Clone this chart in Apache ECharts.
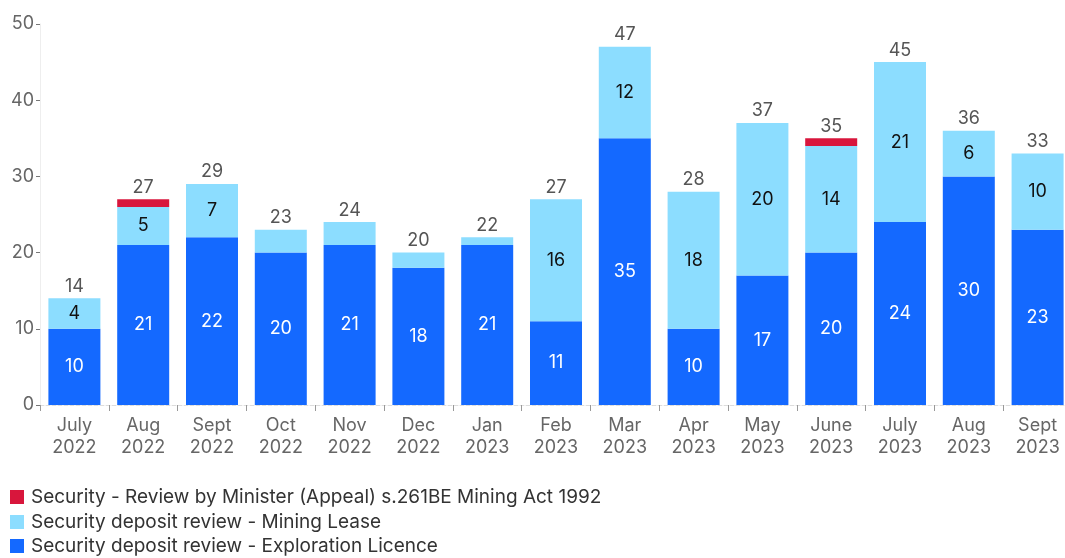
<!DOCTYPE html>
<html>
<head>
<meta charset="utf-8">
<script src="https://cdn.jsdelivr.net/npm/echarts@6/dist/echarts.min.js"></script>
<style>
  html, body { margin: 0; padding: 0; background: #fff; }
  #chart { width: 1065px; height: 558px; }
</style>
</head>
<body>
<div id="chart"></div>
<script>
// 月份（两行标签）
const months = ['July\n2022', 'Aug\n2022', 'Sept\n2022', 'Oct\n2022', 'Nov\n2022', 'Dec\n2022',
    'Jan\n2023', 'Feb\n2023', 'Mar\n2023', 'Apr\n2023', 'May\n2023', 'June\n2023',
    'July\n2023', 'Aug\n2023', 'Sept\n2023'];

const explorationLicence = [10, 21, 22, 20, 21, 18, 21, 11, 35, 10, 17, 20, 24, 30, 23];
const miningLease = [4, 5, 7, 3, 3, 2, 1, 16, 12, 18, 20, 14, 21, 6, 10];
const ministerAppeal = [0, 1, 0, 0, 0, 0, 0, 0, 0, 0, 0, 1, 0, 0, 0];

const yTicks = [0, 10, 20, 30, 40, 50];

const names = [
    'Security deposit review - Exploration Licence',
    'Security deposit review - Mining Lease',
    'Security - Review by Minister (Appeal) s.261BE Mining Act 1992'
];

const totals = months.map((m, i) => explorationLicence[i] + miningLease[i] + ministerAppeal[i]);

const FONT = 'Inter';

const chart = echarts.init(document.getElementById('chart'));

// 只显示较大的数值
function insideLabel(color) {
    return {
        show: true,
        position: 'inside',
        color: color,
        fontSize: 18,
        fontFamily: FONT,
        formatter: p => (p.value >= 4 ? String(p.value) : '')
    };
}

// 图例逐行放置（每行一个）
function legendRow(name, top) {
    return {
        data: [name],
        orient: 'vertical',
        left: 10,
        top: top,
        itemWidth: 14,
        itemHeight: 14,
        icon: 'rect',
        padding: 0,
        textStyle: { color: '#333', fontSize: 19, lineHeight: 20, fontFamily: FONT, padding: [0, 0, 0, 2] }
    };
}

const option = {
    animation: false,
    textStyle: { fontFamily: FONT },
    grid: { left: 40, width: 1032, top: 24, bottom: 153, outerBoundsMode: 'none', containLabel: false },
    legend: [
        legendRow(names[2], 487),
        legendRow(names[1], 512),
        legendRow(names[0], 536)
    ],
    xAxis: {
        type: 'category',
        data: months,
        axisLine: { lineStyle: { color: '#ddd', type: 'dashed' } },
        axisTick: { show: true, interval: 0, length: 6, lineStyle: { color: '#999' } },
        axisLabel: { color: '#666', fontSize: 18, fontFamily: FONT, lineHeight: 22, margin: 10, interval: 0 }
    },
    yAxis: {
        type: 'value',
        min: yTicks[0],
        max: yTicks[yTicks.length - 1],
        interval: 10,
        splitLine: { show: false },
        axisLine: { show: true, lineStyle: { color: '#eee' } },
        axisTick: { show: true, length: 4, lineStyle: { color: '#777' } },
        axisLabel: { color: '#666', fontSize: 18, fontFamily: FONT, margin: 6 }
    },
    series: [
        {
            name: names[0],
            type: 'bar',
            stack: 'total',
            barWidth: 52,
            data: explorationLicence,
            itemStyle: { color: '#1469FF' },
            label: insideLabel('#fff')
        },
        {
            name: names[1],
            type: 'bar',
            stack: 'total',
            data: miningLease,
            itemStyle: { color: '#8CDDFF' },
            label: insideLabel('#111')
        },
        {
            name: names[2],
            type: 'bar',
            stack: 'total',
            data: ministerAppeal,
            itemStyle: { color: '#D8163C' },
            label: { show: false }
        },
        {
            // 总数标签
            name: 'total',
            type: 'bar',
            stack: 'total',
            data: totals.map(() => 0),
            itemStyle: { color: 'transparent' },
            label: {
                show: true,
                position: 'top',
                distance: 3,
                color: '#555',
                fontSize: 18,
                fontFamily: FONT,
                formatter: p => String(totals[p.dataIndex])
            }
        }
    ]
};

chart.setOption(option);
</script>
</body>
</html>
